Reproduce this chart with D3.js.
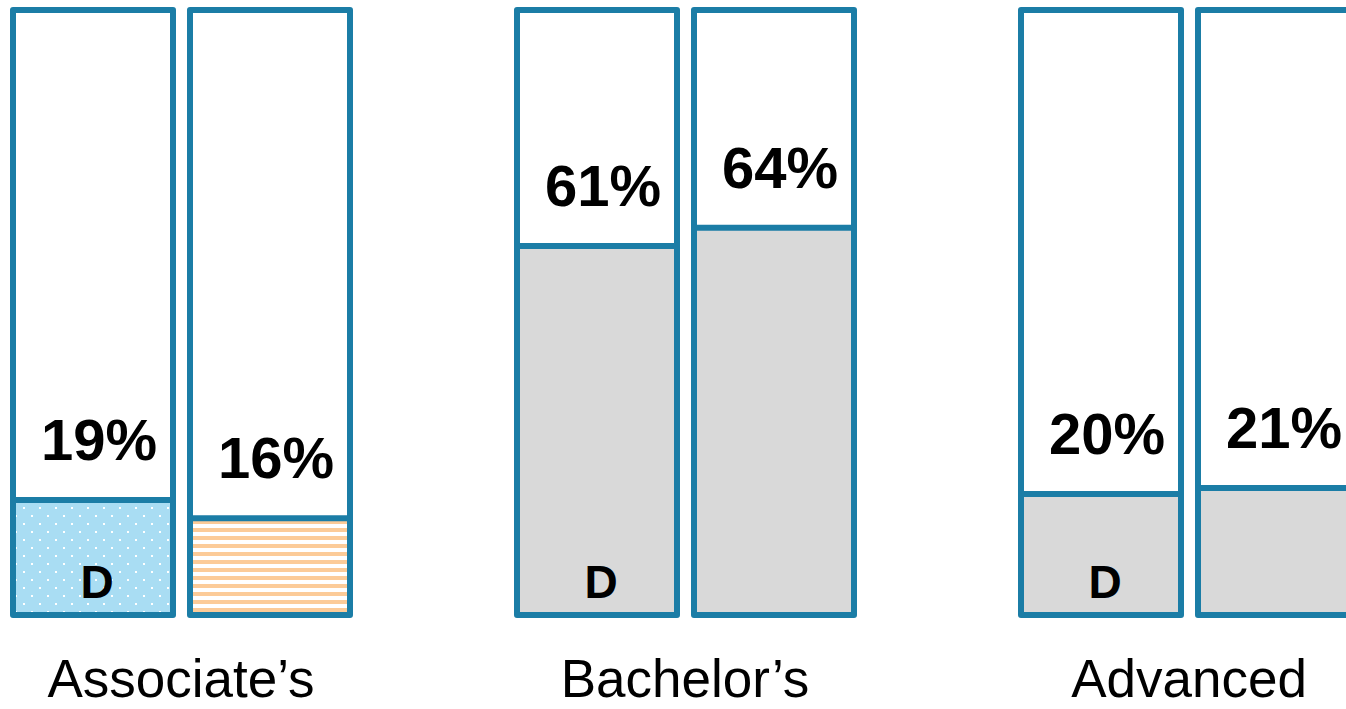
<!DOCTYPE html>
<html>
<head>
<meta charset="utf-8">
<script src="https://cdn.jsdelivr.net/npm/d3@7"></script>
<style>
  html, body { margin: 0; padding: 0; background: #ffffff; }
  svg { display: block; }
</style>
</head>
<body>
<script>
// Degree levels and the two bars shown for each
const groups = ["Associate’s", "Bachelor’s", "Advanced"];
const barGroup = ["Associate’s", "Associate’s", "Bachelor’s", "Bachelor’s", "Advanced", "Advanced"];
const barSlot = ["a", "b", "a", "b", "a", "b"];
const barValue = [19, 16, 61, 64, 20, 21];
const barFill = ["dots", "stripes", "gray", "gray", "gray", "gray"];
const barTag = ["D", "", "D", "", "D", ""];

const W = 1346, H = 709;
const stroke = "#1b7da6";

const svg = d3.select("body").append("svg")
  .attr("width", W).attr("height", H);

// Fill patterns
const defs = svg.append("defs");
const dots = defs.append("pattern")
  .attr("id", "dots").attr("patternUnits", "userSpaceOnUse")
  .attr("width", 16).attr("height", 16);
dots.append("rect").attr("width", 16).attr("height", 16).attr("fill", "#a9ddf3");
dots.append("rect").attr("x", 2).attr("y", 3).attr("width", 2).attr("height", 2).attr("fill", "#ffffff");
dots.append("rect").attr("x", 10).attr("y", 11).attr("width", 2).attr("height", 2).attr("fill", "#ffffff");

const stripes = defs.append("pattern")
  .attr("id", "stripes").attr("patternUnits", "userSpaceOnUse")
  .attr("width", 8).attr("height", 8);
stripes.append("rect").attr("width", 8).attr("height", 8).attr("fill", "#ffffff");
stripes.append("rect").attr("y", 0).attr("width", 8).attr("height", 4).attr("fill", "#fccb98");

const fillFor = { dots: "url(#dots)", stripes: "url(#stripes)", gray: "#d9d9d9" };

// Scales
const x = d3.scaleBand().domain(groups).range([13, 13 + 504 * 3]).paddingInner(0).paddingOuter(0);
const xi = d3.scaleOrdinal().domain(["a", "b"]).range([0, 177]);
const barW = 160;
const frameTop = 10, frameBottom = 615;
const y = d3.scaleLinear().domain([0, 100]).range([frameBottom, frameTop]);

const bars = barValue.map((v, i) => ({
  value: v, group: barGroup[i], slot: barSlot[i], fill: barFill[i], tag: barTag[i]
}));

const g = svg.append("g");
const bar = g.selectAll("g.bar").data(bars).join("g")
  .attr("class", "bar")
  .attr("transform", d => `translate(${x(d.group) + xi(d.slot)},0)`);

// Frame background
bar.append("rect")
  .attr("x", 0).attr("y", frameTop).attr("width", barW).attr("height", frameBottom - frameTop)
  .attr("fill", "#ffffff");

// Value portion
bar.append("rect")
  .attr("x", 0).attr("y", d => y(d.value))
  .attr("width", barW).attr("height", d => frameBottom - y(d.value))
  .attr("fill", d => fillFor[d.fill]);

// Frame outline
bar.append("rect")
  .attr("x", 0).attr("y", frameTop).attr("width", barW).attr("height", frameBottom - frameTop)
  .attr("fill", "none").attr("stroke", stroke).attr("stroke-width", 6)
  .attr("stroke-linejoin", "round");

// Divider at the value level
bar.append("line")
  .attr("x1", 0).attr("x2", barW)
  .attr("y1", d => y(d.value)).attr("y2", d => y(d.value))
  .attr("stroke", stroke).attr("stroke-width", 6);

// Percent labels
bar.append("text")
  .attr("x", barW / 2 + 6).attr("y", d => y(d.value) - 40)
  .attr("text-anchor", "middle")
  .attr("font-family", "Liberation Sans, Arial, sans-serif")
  .attr("font-weight", "bold").attr("font-size", 58)
  .attr("fill", "#000000")
  .text(d => d.value + "%");

// Tag labels at the base
bar.filter(d => d.tag).append("text")
  .attr("x", barW / 2 + 4).attr("y", 598)
  .attr("text-anchor", "middle")
  .attr("font-family", "Liberation Sans, Arial, sans-serif")
  .attr("font-weight", "bold").attr("font-size", 46)
  .attr("fill", "#000000")
  .text(d => d.tag);

// Group labels
svg.append("g").selectAll("text").data(groups).join("text")
  .attr("x", d => x(d) + 168).attr("y", 697)
  .attr("text-anchor", "middle")
  .attr("font-family", "Liberation Sans, Arial, sans-serif")
  .attr("font-size", 53)
  .attr("fill", "#000000")
  .text(d => d);
</script>
</body>
</html>
